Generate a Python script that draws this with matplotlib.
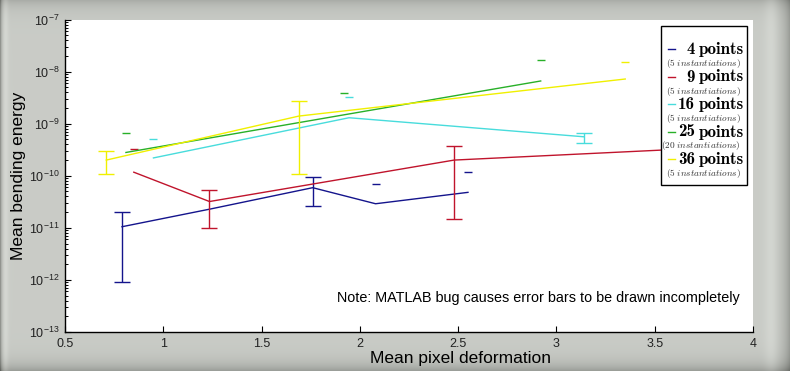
import os
import numpy as np
import matplotlib
import matplotlib.pyplot as plt
from matplotlib.patches import Rectangle
from matplotlib.font_manager import FontProperties

plt.rcParams['font.family'] = ['Liberation Sans', 'DejaVu Sans']
plt.rcParams['mathtext.default'] = 'regular'

nan = np.nan

# values (lo = nan with a hi value -> only the top cap was drawn)
x_ticks = [0.5, 1, 1.5, 2, 2.5, 3, 3.5, 4]
x_tick_labels = ['0.5', '1', '1.5', '2', '2.5', '3', '3.5', '4']

pts4_x = [0.79, 1.24, 1.76, 2.08, 2.55]
pts4_y = [1.05e-11, 2.3e-11, 5.9e-11, 2.9e-11, 4.8e-11]
pts4_lo = [9.3e-13, nan, 2.6e-11, nan, nan]
pts4_hi = [2.0e-11, nan, 9.3e-11, 6.9e-11, 1.2e-10]

pts9_x = [0.85, 1.235, 2.48, 3.95]
pts9_y = [1.17e-10, 3.2e-11, 2.0e-10, 3.7e-10]
pts9_lo = [nan, 1.0e-11, 1.45e-11, nan]
pts9_hi = [3.2e-10, 5.4e-11, 3.7e-10, nan]

pts16_x = [0.95, 1.945, 3.14]
pts16_y = [2.2e-10, 1.3e-9, 5.6e-10]
pts16_lo = [nan, nan, 4.3e-10]
pts16_hi = [5.0e-10, 3.3e-9, 6.5e-10]

pts25_x = [0.81, 1.92, 2.92]
pts25_y = [2.8e-10, 1.48e-9, 6.6e-9]
pts25_lo = [nan, nan, nan]
pts25_hi = [6.5e-10, 3.8e-9, 1.7e-8]

pts36_x = [0.71, 1.69, 3.35]
pts36_y = [2.0e-10, 1.4e-9, 7.2e-9]
pts36_lo = [1.07e-10, 1.1e-10, nan]
pts36_hi = [2.95e-10, 2.7e-9, 1.5e-8]

series_nums = ['4', '9', '16', '25', '36']
series_counts = ['(5 instantiations)', '(5 instantiations)', '(5 instantiations)',
                 '(20 instantiations)', '(5 instantiations)']
colors = ['#14148c', '#c0142c', '#48dcdc', '#28b028', '#f0f000']

series = [(pts4_x, pts4_y, pts4_lo, pts4_hi),
          (pts9_x, pts9_y, pts9_lo, pts9_hi),
          (pts16_x, pts16_y, pts16_lo, pts16_hi),
          (pts25_x, pts25_y, pts25_lo, pts25_hi),
          (pts36_x, pts36_y, pts36_lo, pts36_hi)]

cmb = FontProperties(fname=os.path.join(matplotlib.get_data_path(), 'fonts', 'ttf', 'cmb10.ttf'),
                     size=12.2)

W, H = 790, 371
fig = plt.figure(figsize=(W / 100, H / 100), dpi=100)

# beveled grey frame
yy, xx = np.mgrid[0:H, 0:W].astype(float)
dr = W - 1 - xx
db = H - 1 - yy
shade = np.zeros((H, W))
shade += -0.12 * np.exp(-yy / 8)
shade += -0.18 * np.exp(-dr / 7) + 0.05 * np.exp(-((dr - 18) / 7) ** 2)
shade += -0.18 * np.exp(-db / 8)
shade += -0.22 * np.exp(-xx / 1.5) + 0.05 * np.exp(-((xx - 5) / 3) ** 2)
base = np.array([0.79, 0.80, 0.78])
img = np.clip(base + shade[..., None], 0, 1)
bg = fig.add_axes([0, 0, 1, 1], zorder=-1)
bg.imshow(img, aspect='auto', interpolation='nearest')
bg.axis('off')

ax = fig.add_axes([65 / W, 39 / H, 688 / W, 312.5 / H])
ax.set_facecolor('white')
ax.set_yscale('log')
ax.set_xlim(0.5, 4)
ax.set_ylim(1e-13, 1e-7)
ax.set_xticks(x_ticks)
ax.set_xticklabels(x_tick_labels)
for s in ['top', 'right']:
    ax.spines[s].set_visible(False)
for s in ['left', 'bottom']:
    ax.spines[s].set_linewidth(1.0)
ax.tick_params(which='major', direction='in', length=4.5, width=0.8,
               labelsize=9, labelcolor='#222222', pad=4)
ax.tick_params(which='minor', direction='in', length=2.5, width=0.7)
ax.tick_params(axis='x', which='minor', bottom=False)

for (x, y, lo, hi), c in zip(series, colors):
    x = np.array(x); y = np.array(y); lo = np.array(lo); hi = np.array(hi)
    ax.plot(x, y, color=c, lw=1.0)
    full = ~np.isnan(lo) & ~np.isnan(hi)
    if full.any():
        ax.errorbar(x[full], y[full], yerr=[y[full] - lo[full], hi[full] - y[full]],
                    fmt='none', ecolor=c, elinewidth=1.0, capsize=6, capthick=1.0)
    cap = np.isnan(lo) & ~np.isnan(hi)
    ax.plot(x[cap], hi[cap], ls='none', marker='_', ms=6, mew=1.0, color=c)

ax.text(0.395, 0.108, 'Note: MATLAB bug causes error bars to be drawn incompletely',
        transform=ax.transAxes, fontsize=10.4, va='center', ha='left')

# legend box
ax.add_patch(Rectangle((0.867, 0.470), 0.125, 0.510, transform=ax.transAxes,
                       facecolor='white', edgecolor='black', lw=1.0, zorder=10,
                       clip_on=False))
baselines = [54, 81.5, 109, 136.5, 164]
for num, cnt, c, b in zip(series_nums, series_counts, colors, baselines):
    yb = (332 - b) / 312.5
    # word and number drawn separately (the CM bold file has no usable space)
    ax.text(0.9875, yb, 'points', transform=ax.transAxes, ha='right', va='baseline',
            fontproperties=cmb, zorder=11)
    ax.text(0.9875 - 0.0715, yb, num, transform=ax.transAxes, ha='right',
            va='baseline', fontproperties=cmb, zorder=11)
    ax.text(0.982, (332 - b - 12) / 312.5, r'$\mathit{' + cnt.replace(' ', r'\ ') + '}$',
            transform=ax.transAxes, ha='right', va='baseline', fontsize=6.7,
            math_fontfamily='cm', color='#333333', zorder=11)
    ym = (332 - b + 5) / 312.5
    ax.plot([0.876, 0.886], [ym, ym], transform=ax.transAxes, color=c, lw=1.0,
            zorder=11, clip_on=False)

fig.text(18.5 / W, 1 - 176 / H, 'Mean bending energy', rotation=90,
         ha='center', va='center', fontsize=12.5)
fig.text(460 / W, 1 - 358 / H, 'Mean pixel deformation', ha='center', va='center',
         fontsize=12.5)

fig.savefig('out.png', dpi=100)
